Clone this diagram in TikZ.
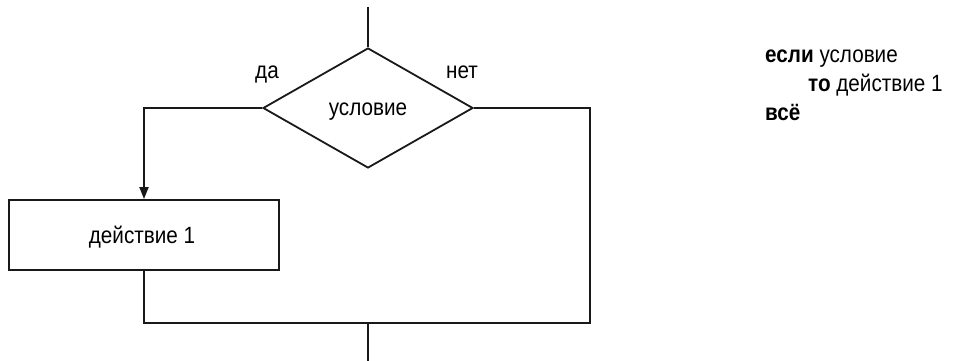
\documentclass[tikz,border=0pt]{standalone}
\usepackage{fontspec}
\setmainfont[FakeStretch=0.88]{Liberation Sans}
\usetikzlibrary{shapes.geometric,arrows.meta}
\begin{document}
\begin{tikzpicture}[x=1pt,y=-1pt,
  line/.style={line width=1.8pt, draw=black!90},
  lbl/.style={font=\fontsize{23.5}{28}\selectfont, inner sep=0pt, anchor=base},
  code/.style={font=\fontsize{23.5}{28}\selectfont, inner sep=0pt, anchor=base west},
  cond/.style={line, shape=diamond, minimum width=210pt, minimum height=120pt, inner sep=0pt, aspect=1.75},
  actbox/.style={line, rectangle, minimum width=270pt, minimum height=70pt, inner sep=0pt},
  arr/.style={-{Triangle[length=12pt,width=9pt]}}]
\useasboundingbox (0,0) rectangle (954,361);

% decision and action
\node[cond] (c) at (368,108) {};
\node[lbl] (ctext) at (368,115) {условие};
\node[actbox] (a) at (144,235) {};
\node[lbl] (atext) at (142,243) {действие 1};

% branch labels
\node[lbl] (yes) at (267,79) {да};
\node[lbl] (no) at (462,79) {нет};

% connector points
\coordinate (top) at (368,7);
\coordinate (lc) at (144,108);
\coordinate (rc) at (590,108);
\coordinate (jl) at (144,323);
\coordinate (jr) at (590,323);
\coordinate (jm) at (368,323);
\coordinate (bot) at (368,361);

\draw[line] (top) -- (c.north);
\draw[line,arr] (c.west) -- (lc) -- (a.north);
\draw[line] (c.east) -- (rc) -- (jr) -- (jl) -- (a.south);
\draw[line] (jm) -- (bot);

% pseudocode
\node[code] (l1) at (765,63) {\textbf{если} условие};
\node[code] (l2) at (808,92) {\textbf{то} действие 1};
\node[code] (l3) at (765,121) {\textbf{всё}};
\end{tikzpicture}
\end{document}
